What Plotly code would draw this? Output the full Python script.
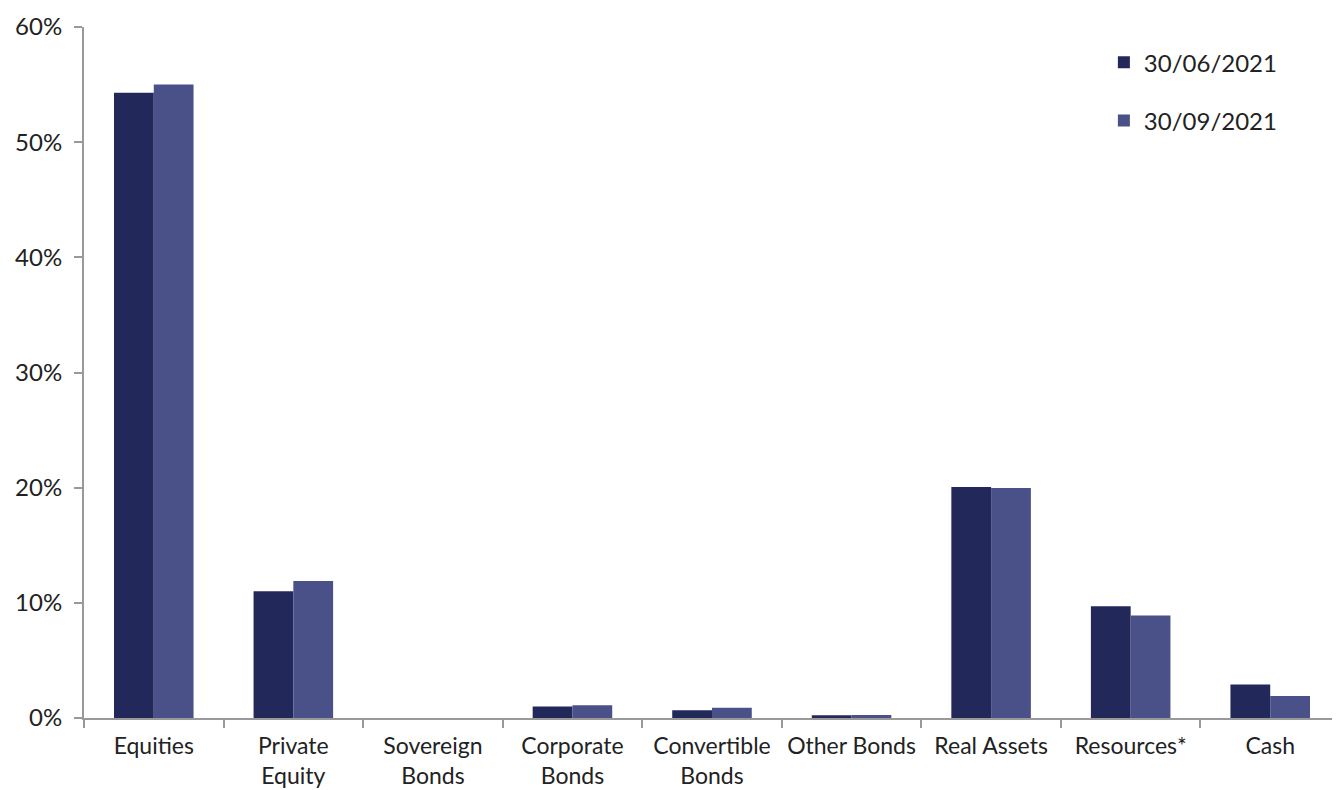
import plotly.graph_objects as go

categories = ["Equities", "Private<br>Equity", "Sovereign<br>Bonds", "Corporate<br>Bonds",
              "Convertible<br>Bonds", "Other Bonds", "Real Assets", "Resources*", "Cash"]
series_jun = [54.3, 11.0, 0.0, 1.0, 0.67, 0.23, 20.05, 9.7, 2.9]
series_sep = [55.0, 11.9, 0.0, 1.1, 0.9, 0.25, 19.97, 8.9, 1.9]
series_names = ["30/06/2021", "30/09/2021"]
y_ticks = [0, 10, 20, 30, 40, 50, 60]

colors = ["#23285B", "#4A5088"]

fig = go.Figure()
for name, vals, col in zip(series_names, [series_jun, series_sep], colors):
    fig.add_trace(go.Bar(x=categories, y=vals, name=name, legendgroup=name,
                         marker=dict(color=col, line=dict(width=0))))

# page body has an 8px default margin, so the figure is sized/offset to compensate
fig.update_layout(
    width=1332, height=782,
    margin=dict(l=76, r=0, t=19, b=72),
    barmode="group", bargap=0.43, bargroupgap=0,
    plot_bgcolor="white", paper_bgcolor="white",
    font=dict(family="Lato, Open Sans, sans-serif", size=24, color="#222222"),
    showlegend=True,
    legend=dict(x=0.812, y=0.981, xanchor="left", yanchor="top",
                traceorder="grouped", tracegroupgap=24,
                font=dict(size=24), itemwidth=30, bgcolor="rgba(0,0,0,0)"),
    xaxis=dict(showline=True, linecolor="#999999", linewidth=2, automargin=False,
               ticks="outside", tickson="boundaries", ticklen=8, tickwidth=2,
               tickcolor="#999999", showgrid=False, ticklabelstandoff=6, tickangle=0,
               tickfont=dict(size=23)),
    yaxis=dict(range=[0, 60], tickvals=y_ticks, ticktext=[f"{v}%" for v in y_ticks],
               showline=True, linecolor="#999999", linewidth=2, automargin=False,
               ticks="outside", ticklen=8, tickwidth=2, tickcolor="#999999",
               showgrid=False, zeroline=False, ticklabelstandoff=7),
)

fig.write_html("out.html")
